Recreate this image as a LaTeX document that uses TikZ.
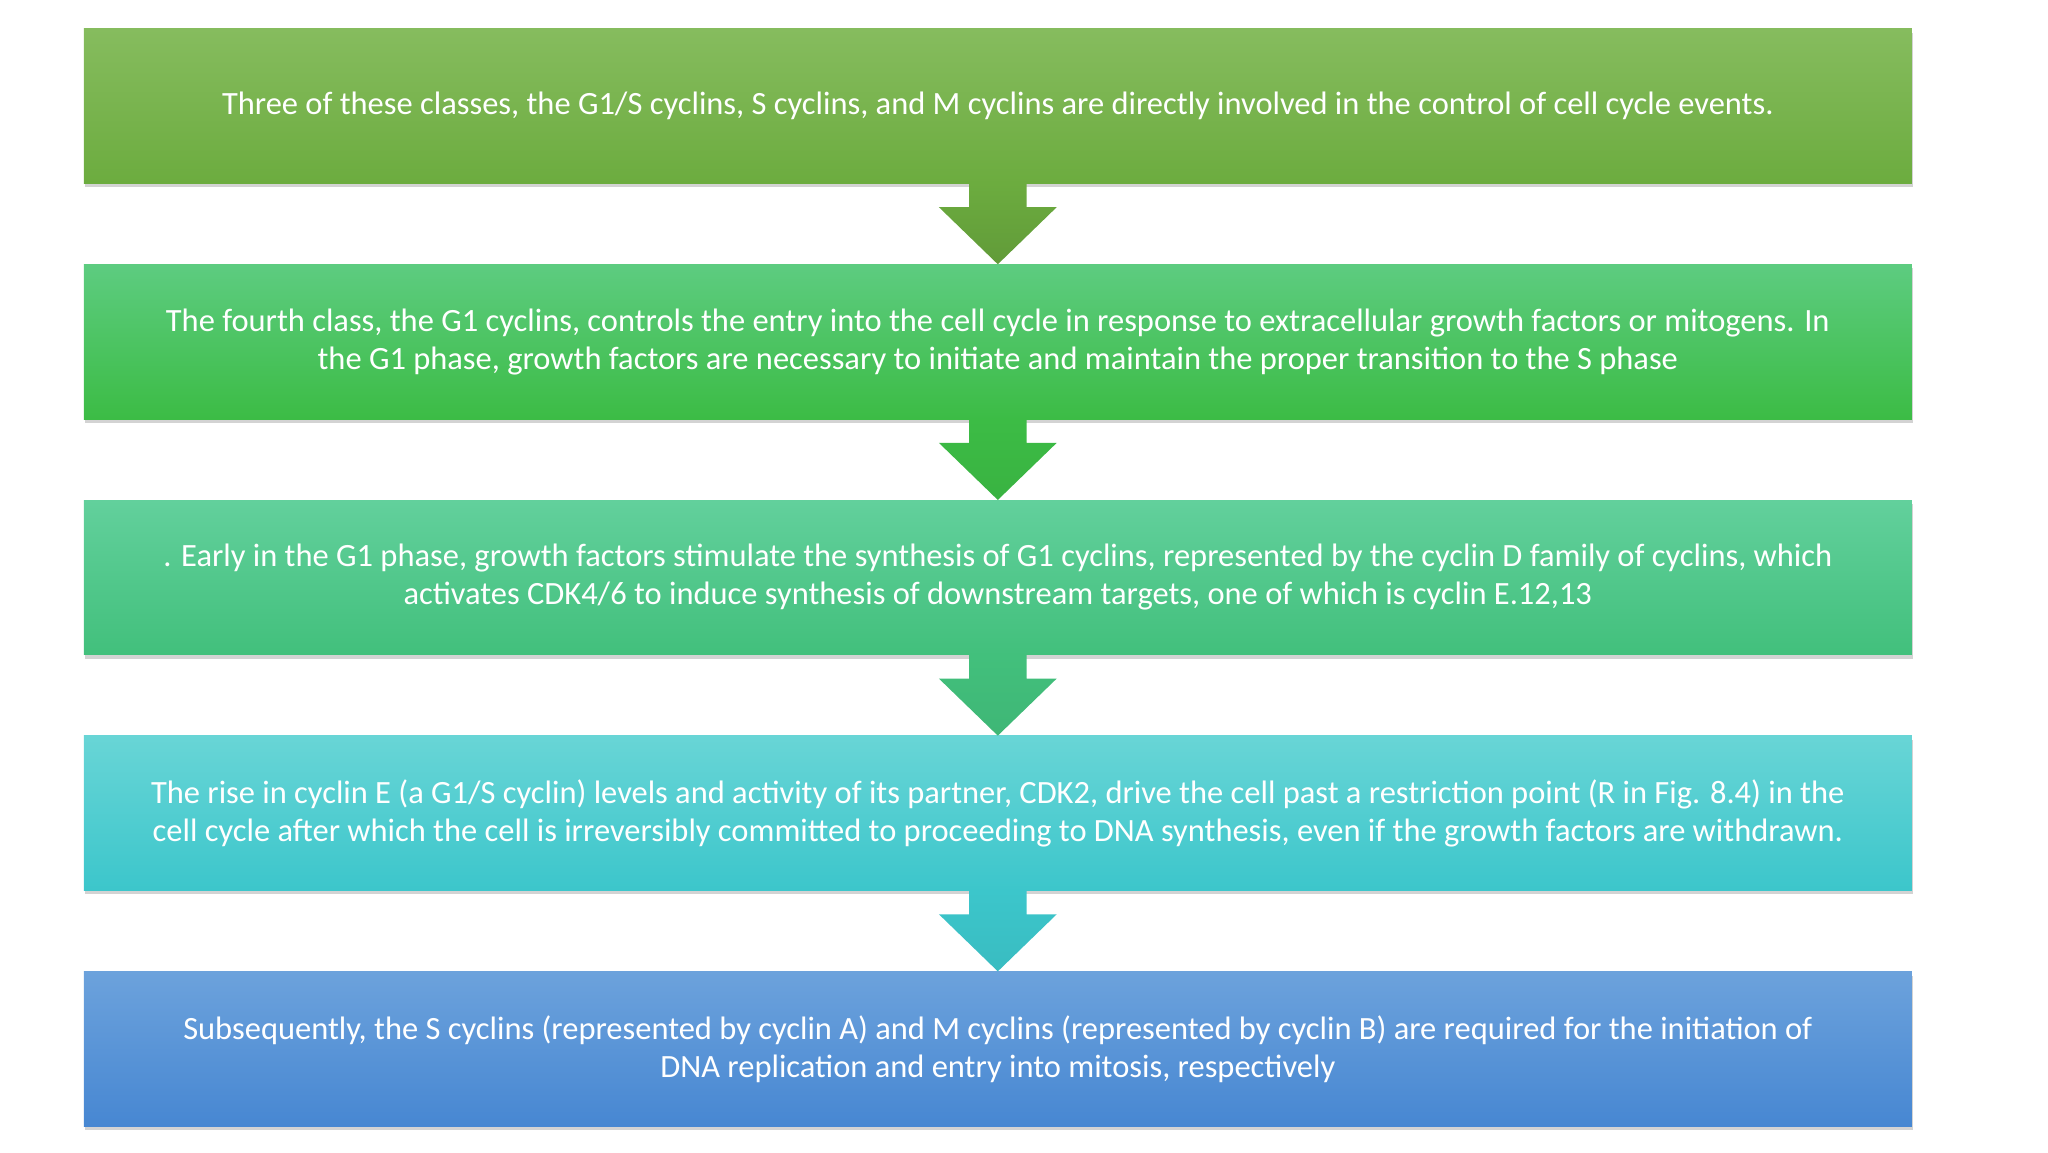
\documentclass[tikz,border=0pt]{standalone}
\usepackage{fontspec}
\setmainfont{Carlito}
\usetikzlibrary{calc,shadows}
\definecolor{aT}{HTML}{86BC5E}\definecolor{aB}{HTML}{6CAC3F}
\definecolor{bT}{HTML}{5DCC80}\definecolor{bB}{HTML}{3CBC45}
\definecolor{cT}{HTML}{62D09C}\definecolor{cB}{HTML}{42C07C}
\definecolor{dT}{HTML}{68D5D6}\definecolor{dB}{HTML}{3CC6CB}
\definecolor{eT}{HTML}{6CA2DC}\definecolor{eB}{HTML}{4787D2}
\tikzset{
 stepbox/.style={rectangle, minimum width=1396pt, minimum height=118pt, align=center, text=white, font=\fontsize{24.8}{29}\selectfont, drop shadow={opacity=0.35, shadow xshift=1pt, shadow yshift=-3pt}},
}
\newcommand{\flowarrow}[4]{%
 \shade[top color=#3, bottom color=#4]
 ($(#1.south)+(-22,0)$) -- ($(#1.south)+(22,0)$) -- ($(#1.south)+(22,18)$) -- ($(#1.south)+(45,18)$)
 -- (#2.north) -- ($(#1.south)+(-45,18)$) -- ($(#1.south)+(-22,18)$) -- cycle;}
\begin{document}
\begin{tikzpicture}[x=1pt,y=-1pt]
\useasboundingbox (0,0) rectangle (1564,880);
\node[stepbox, top color=aT, bottom color=aB] (a) at (762,81) {Three of these classes, the G1/S cyclins, S cyclins, and M cyclins are directly involved in the control of cell cycle events.};
\node[stepbox, top color=bT, bottom color=bB] (b) at (762,261) {The fourth class, the G1 cyclins, controls the entry into the cell cycle in response to extracellular growth factors or mitogens. In\\ the G1 phase, growth factors are necessary to initiate and maintain the proper transition to the S phase};
\node[stepbox, top color=cT, bottom color=cB] (c) at (762,441) {. Early in the G1 phase, growth factors stimulate the synthesis of G1 cyclins, represented by the cyclin D family of cyclins, which\\ activates CDK4/6 to induce synthesis of downstream targets, one of which is cyclin E.12,13};
\node[stepbox, top color=dT, bottom color=dB] (d) at (762,621) {The rise in cyclin E (a G1/S cyclin) levels and activity of its partner, CDK2, drive the cell past a restriction point (R in Fig. 8.4) in the\\ cell cycle after which the cell is irreversibly committed to proceeding to DNA synthesis, even if the growth factors are withdrawn.};
\node[stepbox, top color=eT, bottom color=eB] (e) at (762,801) {Subsequently, the S cyclins (represented by cyclin A) and M cyclins (represented by cyclin B) are required for the initiation of\\ DNA replication and entry into mitosis, respectively};
\flowarrow{a}{b}{aB}{aB!90!black}
\flowarrow{b}{c}{bB}{bB!95!black}
\flowarrow{c}{d}{cB}{cB!95!black}
\flowarrow{d}{e}{dB}{dB!95!black}
\end{tikzpicture}
\end{document}
